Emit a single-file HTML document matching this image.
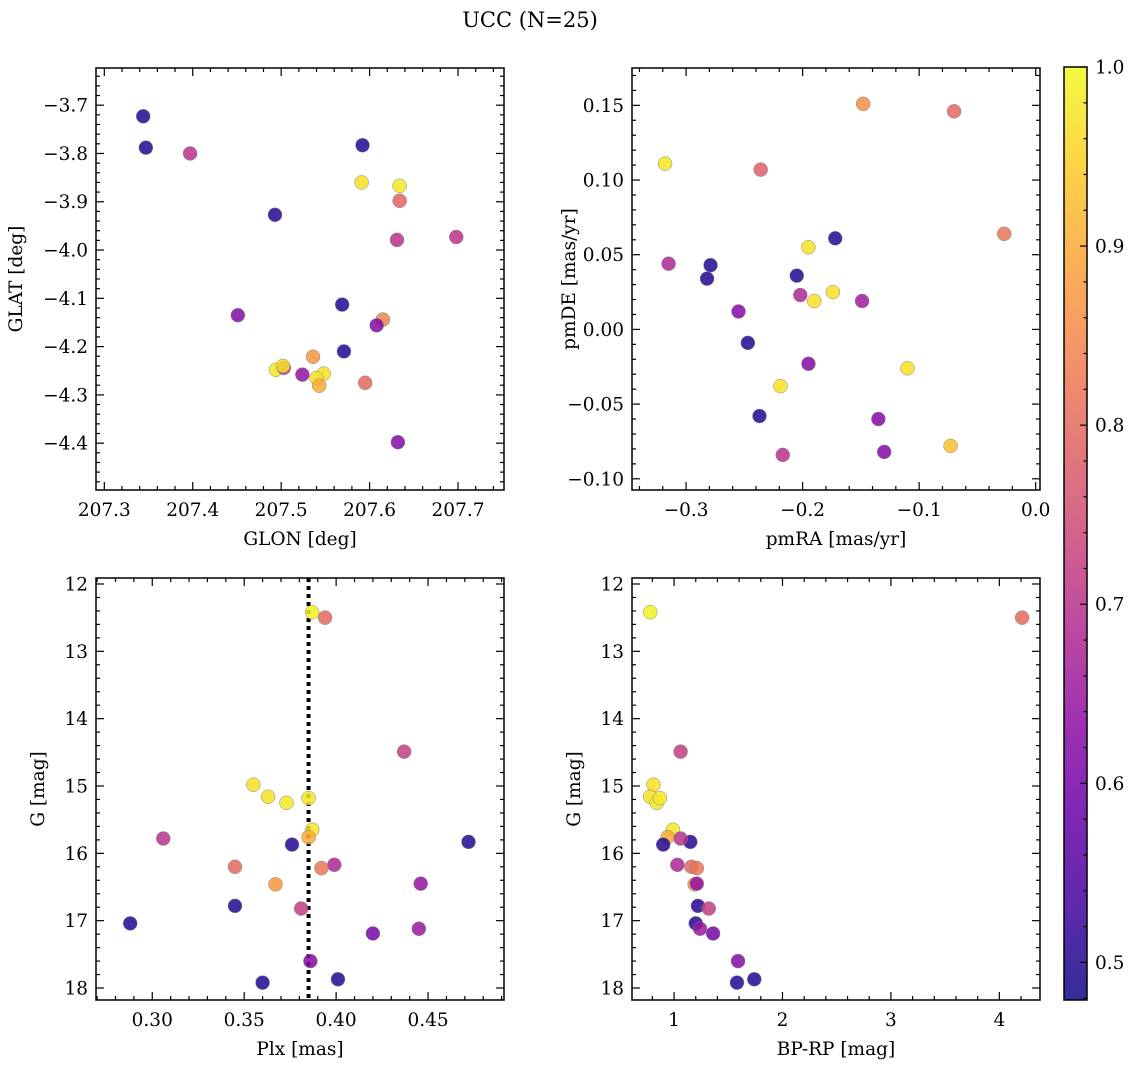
<!DOCTYPE html>
<html><head><meta charset="utf-8">
<style>
body{margin:0;background:#fff;}
svg{display:block;font-family:"DejaVu Serif","Liberation Serif",serif;}
</style></head>
<body>
<svg id="fig" width="1136" height="1067" viewBox="0 0 1136 1067" xmlns="http://www.w3.org/2000/svg">
<text x="530" y="27" font-size="21" text-anchor="middle">UCC (N=25)</text>
</svg>
<script>
// Panel 1: GLON / GLAT
const glon = [207.344,207.347,207.397,207.493,207.592,207.591,207.634,207.634,207.631,207.698,207.451,207.569,207.615,207.608,207.571,207.536,207.494,207.503,207.502,207.524,207.548,207.540,207.543,207.595,207.632];
const glat = [-3.723,-3.788,-3.800,-3.927,-3.783,-3.860,-3.867,-3.898,-3.979,-3.973,-4.135,-4.113,-4.144,-4.156,-4.210,-4.221,-4.248,-4.244,-4.240,-4.258,-4.256,-4.265,-4.281,-4.275,-4.398];
const probPos = [0.50,0.50,0.70,0.50,0.50,0.97,0.98,0.79,0.70,0.70,0.62,0.50,0.84,0.62,0.50,0.87,0.98,0.70,0.97,0.64,0.97,0.97,0.90,0.80,0.62];
// Panel 2: pmRA / pmDE
const pmra = [-0.318,-0.315,-0.279,-0.282,-0.236,-0.148,-0.070,-0.027,-0.172,-0.195,-0.205,-0.202,-0.190,-0.174,-0.149,-0.255,-0.247,-0.195,-0.110,-0.219,-0.237,-0.135,-0.130,-0.217,-0.073];
const pmde = [0.111,0.044,0.043,0.034,0.107,0.151,0.146,0.064,0.061,0.055,0.036,0.023,0.019,0.025,0.019,0.012,-0.009,-0.023,-0.026,-0.038,-0.058,-0.060,-0.082,-0.084,-0.078];
const probPm = [0.98,0.68,0.50,0.50,0.78,0.86,0.80,0.82,0.50,0.97,0.50,0.68,0.97,0.97,0.66,0.62,0.50,0.62,0.97,0.97,0.50,0.62,0.62,0.70,0.93];
// Panels 3 & 4: Plx, BP-RP, G
const plx  = [0.387,0.394,0.437,0.355,0.363,0.373,0.385,0.387,0.385,0.376,0.472,0.306,0.345,0.399,0.392,0.367,0.446,0.345,0.381,0.288,0.445,0.420,0.386,0.360,0.401];
const bprp = [0.78,4.21,1.06,0.81,0.78,0.84,0.87,0.99,0.94,0.90,1.15,1.06,1.16,1.03,1.21,1.19,1.21,1.22,1.32,1.20,1.24,1.36,1.59,1.58,1.74];
const gmag = [12.42,12.50,14.49,14.98,15.16,15.25,15.18,15.65,15.76,15.87,15.83,15.78,16.20,16.17,16.22,16.46,16.45,16.78,16.82,17.04,17.12,17.19,17.60,17.92,17.87];
const probCmd = [0.99,0.80,0.72,0.97,0.97,0.98,0.98,0.98,0.90,0.50,0.50,0.70,0.80,0.68,0.82,0.87,0.64,0.50,0.72,0.50,0.65,0.60,0.62,0.50,0.50];
const plxMedian = [0.385];
const cbTicks = [0.5,0.6,0.7,0.8,0.9,1.0];

const NS="http://www.w3.org/2000/svg";
const svg=document.getElementById('fig');
function mk(tag,attrs,parent){const e=document.createElementNS(NS,tag);for(const k in attrs)e.setAttribute(k,attrs[k]);(parent||svg).appendChild(e);return e;}

const plasma=[[13,8,135],[65,4,157],[106,0,168],[143,13,164],[177,42,144],[204,71,120],[225,100,98],[242,132,75],[252,166,54],[252,206,37],[240,249,33]];
const cmin=0.479,cmax=1.0;
function cmap(p){let t=(p-cmin)/(cmax-cmin);t=Math.max(0,Math.min(1,t));const f=t*10,i=Math.min(9,Math.floor(f)),r=f-i;const a=plasma[i],b=plasma[i+1];return `rgb(${Math.round(a[0]+(b[0]-a[0])*r)},${Math.round(a[1]+(b[1]-a[1])*r)},${Math.round(a[2]+(b[2]-a[2])*r)})`;}

function fmt(v,d){const s=Math.abs(v).toFixed(d);return (v<-1e-9?'\u2212':'')+s;}

function panel(o){
  const {x0,y0,w,h,xlim,ylim,xinv,yinv}=o;
  const sx=v=>x0+(xinv?(xlim[1]-v):(v-xlim[0]))/(xlim[1]-xlim[0])*w;
  const sy=v=>yinv? y0+(v-ylim[0])/(ylim[1]-ylim[0])*h : y0+h-(v-ylim[0])/(ylim[1]-ylim[0])*h;
  const g=mk('g',{});
  
  
  const tg=mk('g',{stroke:'#000','stroke-width':1.2},g);
  
  
  const eps=1e-9;
  for(let v=Math.ceil(xlim[0]/o.xminor-eps)*o.xminor;v<=xlim[1]+eps;v+=o.xminor){
    const isMaj=Math.abs(v/o.xmajor-Math.round(v/o.xmajor))<1e-6;const L=isMaj?8:4;const X=sx(v);
    mk('line',{x1:X,x2:X,y1:y0+h,y2:y0+h-L},tg);mk('line',{x1:X,x2:X,y1:y0,y2:y0+L},tg);
  }
  for(let v=Math.ceil(ylim[0]/o.yminor-eps)*o.yminor;v<=ylim[1]+eps;v+=o.yminor){
    const isMaj=Math.abs(v/o.ymajor-Math.round(v/o.ymajor))<1e-6;const L=isMaj?8:4;const Y=sy(v);
    mk('line',{x1:x0,x2:x0+L,y1:Y,y2:Y},tg);mk('line',{x1:x0+w,x2:x0+w-L,y1:Y,y2:Y},tg);
  }
  for(let v=Math.ceil(xlim[0]/o.xmajor-eps)*o.xmajor;v<=xlim[1]+eps;v+=o.xmajor){
    const t=mk('text',{x:sx(v),y:y0+h+26,'font-size':18.5,'text-anchor':'middle'},g);
    
    
    t.textContent=fmt(v,o.xdec);
  }
  for(let v=Math.ceil(ylim[0]/o.ymajor-eps)*o.ymajor;v<=ylim[1]+eps;v+=o.ymajor){
    const t=mk('text',{x:x0-8,y:sy(v)+6.5,'font-size':18.5,'text-anchor':'end'},g);
    
    
    t.textContent=fmt(v,o.ydec);
  }
  const xl=mk('text',{x:x0+w/2,y:y0+h+55,'font-size':18.5,'text-anchor':'middle'},g);
  
  
  xl.textContent=o.xlabel;
  const yl=mk('text',{x:0,y:0,'font-size':18.5,'text-anchor':'middle',transform:`translate(${o.ylx},${y0+h/2}) rotate(-90)`},g);
  
  
  yl.textContent=o.ylabel;
  if(o.vline!==undefined){
    const l=mk('line',{x1:sx(o.vline),x2:sx(o.vline),y1:y0,y2:y0+h,stroke:'#000','stroke-width':4,'stroke-dasharray':'4 4'},g);
    
    
  }
  const pts=mk('g',{},g);
  
  
  for(let i=0;i<o.xs.length;i++){
    const c=mk('circle',{cx:sx(o.xs[i]),cy:sy(o.ys[i]),r:7,fill:cmap(o.cs[i]),'fill-opacity':0.85,stroke:'#888','stroke-width':0.5},pts);
    
    
  }
  const fr=mk('rect',{x:x0,y:y0,width:w,height:h,fill:'none',stroke:'#000','stroke-width':1.5},g);
  
  
}

panel({name:'glon-glat-panel',x0:96,y0:68,w:408,h:422,xlim:[207.2906,207.752],ylim:[-4.497,-3.623],xmajor:0.1,xminor:0.02,ymajor:0.1,yminor:0.02,xdec:1,ydec:1,xlabel:'GLON [deg]',ylabel:'GLAT [deg]',ylx:22,xs:glon,ys:glat,cs:probPos});
panel({name:'pm-panel',x0:632,y0:68,w:408,h:422,xlim:[-0.3464,0.0037],ylim:[-0.1075,0.175],xmajor:0.1,xminor:0.02,ymajor:0.05,yminor:0.01,xdec:1,ydec:2,xlabel:'pmRA [mas/yr]',ylabel:'pmDE [mas/yr]',ylx:575,xs:pmra,ys:pmde,cs:probPm});
panel({name:'plx-g-panel',x0:96,y0:578,w:408,h:422,xlim:[0.2694,0.4913],ylim:[11.911,18.178],yinv:true,xmajor:0.05,xminor:0.01,ymajor:1,yminor:0.2,xdec:2,ydec:0,xlabel:'Plx [mas]',ylabel:'G [mag]',ylx:44,vline:plxMedian[0],xs:plx,ys:gmag,cs:probCmd});
panel({name:'cmd-panel',x0:632,y0:578,w:408,h:422,xlim:[0.612,4.375],ylim:[11.911,18.178],yinv:true,xmajor:1,xminor:0.2,ymajor:1,yminor:0.2,xdec:0,ydec:0,xlabel:'BP-RP [mag]',ylabel:'G [mag]',ylx:580,xs:bprp,ys:gmag,cs:probCmd});

// colorbar
(function(){
  const x0=1064,y0=67,w=23,h=933;
  const defs=mk('defs',{});
  const lg=mk('linearGradient',{id:'pl',x1:0,y1:1,x2:0,y2:0},defs);
  for(let i=0;i<=10;i++){mk('stop',{offset:i/10,'stop-color':`rgb(${plasma[i].join(',')})`,'stop-opacity':0.85},lg);}
  const g=mk('g',{});
  
  
  mk('rect',{x:x0,y:y0,width:w,height:h,fill:'url(#pl)'},g);
  const sy=v=>y0+h-(v-cmin)/(cmax-cmin)*h;
  for(let v=0.48;v<=1.0001;v+=0.02){const Y=sy(v);const maj=Math.abs(v*10-Math.round(v*10))<1e-6;mk('line',{x1:x0+w,x2:x0+w-(maj?7:3.5),y1:Y,y2:Y,stroke:'#000','stroke-width':1.2},g);}
  cbTicks.forEach(v=>{const t=mk('text',{x:x0+w+8,y:sy(v)+6.5,'font-size':18.5},g);
    
    
    t.textContent=v.toFixed(1);});
  mk('rect',{x:x0,y:y0,width:w,height:h,fill:'none',stroke:'#000','stroke-width':1.5},g);
})();
</script>
</body></html>
